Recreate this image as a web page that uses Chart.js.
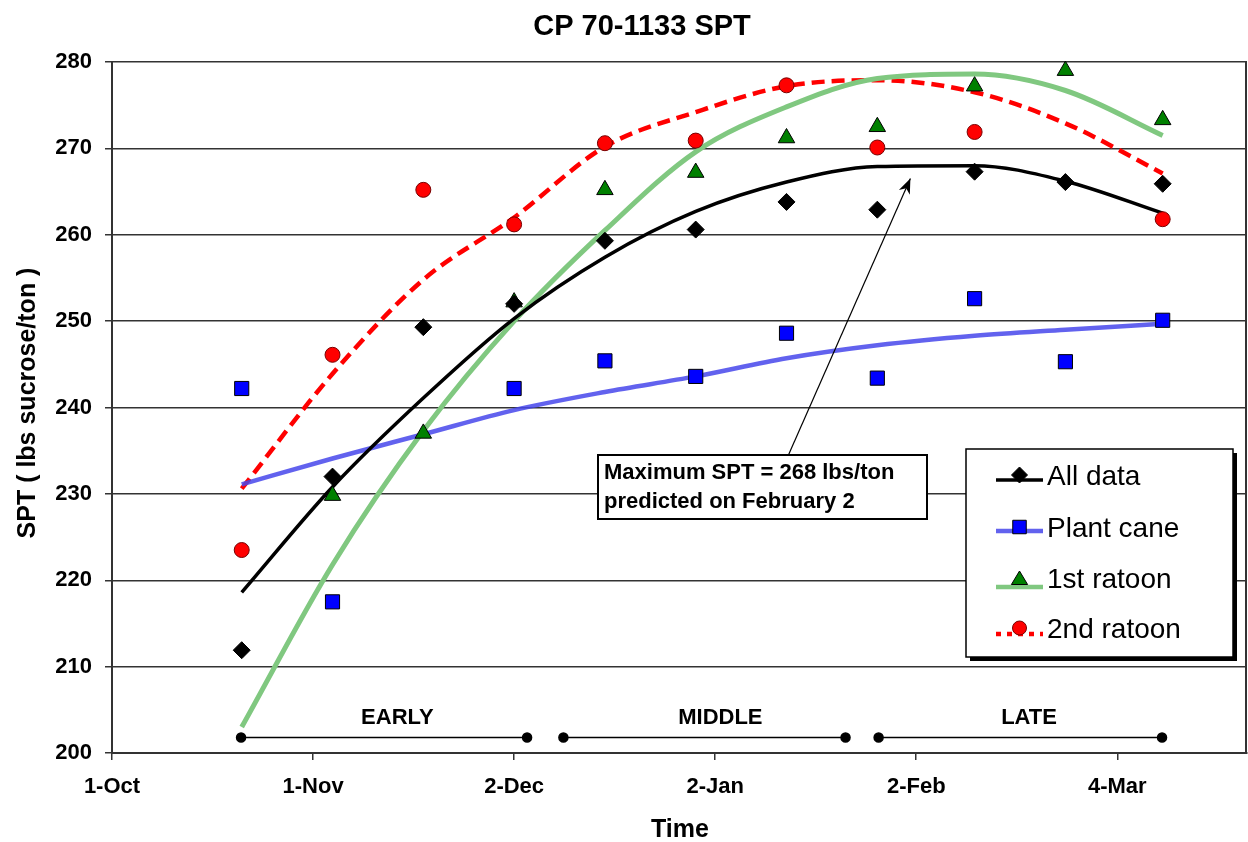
<!DOCTYPE html>
<html>
<head>
<meta charset="utf-8">
<script src="https://cdn.jsdelivr.net/npm/chart.js@4.4.1/dist/chart.umd.min.js"></script>
<style>
  html, body { margin: 0; padding: 0; background: #ffffff; }
  #wrap { width: 1248px; height: 842px; position: relative; }
</style>
</head>
<body>
<div id="wrap"><canvas id="c" width="1248" height="842"></canvas></div>
<script>
// ---- Data (days after 1-Oct) ----
const days = [20, 34, 48, 62, 76, 90, 104, 118, 133, 147, 162];
const allData   = [211.9, 232.0, 249.3, 252.0, 259.3, 260.6, 263.8, 262.9, 267.3, 266.1, 265.9];
const plantCane = [242.2, 217.5, null, 242.2, 245.4, 243.6, 248.6, 243.4, 252.6, 245.3, 250.1];
const ratoon1   = [null, 229.8, 237.0, 252.2, 265.2, 267.2, 271.2, 272.5, 277.2, 279.0, 273.3];
const ratoon2   = [223.5, 246.1, 265.2, 261.2, 270.6, 270.9, 277.3, 270.1, 271.9, null, 261.8];

// trend lines at the same days
const trendAll   = [218.6, 230.8, 241.1, 250.3, 257.4, 262.7, 266.1, 267.9, 268.0, 266.2, 262.5];
const trendPlant = [231.1, 234.1, 236.9, 239.7, 241.8, 243.6, 245.7, 247.2, 248.3, 249.0, 249.7];
const trendR1    = [203.0, 221.8, 237.3, 250.0, 260.5, 269.6, 274.8, 278.1, 278.6, 276.7, 271.5];
const trendR2    = [230.6, 243.9, 254.8, 262.0, 270.2, 274.2, 277.2, 277.9, 276.5, 272.9, 267.1];

const seriesNames = ["All data", "Plant cane", "1st ratoon", "2nd ratoon"];

// x ticks
const tickDays = [0, 31, 62, 93, 124, 155];
const tickLabels = ["1-Oct", "1-Nov", "2-Dec", "2-Jan", "2-Feb", "4-Mar"];

// harvest phases
const phaseNames = ["EARLY", "MIDDLE", "LATE"];
const phaseStart = [19.9, 69.6, 118.2];
const phaseEnd   = [64.0, 113.1, 161.9];
const phaseLevel = 201.8;
const phaseLabelDays = [44.0, 93.8, 141.4];
const phaseLabelLevel = 203.4;

// annotation
const noteLines = ["Maximum SPT = 268 lbs/ton", "predicted on February 2"];
const arrowFrom = { x: 104.3, y: 234.5 };
const arrowTo   = { x: 123.1, y: 266.5 };

const FONT = '"Liberation Sans", Arial, sans-serif';

const COLORS = {
  all: '#000000',
  plant: '#0000ff',
  plantLine: 'rgba(70,70,235,0.85)',
  r1: '#008000',
  r1Line: '#80c880',
  r2: '#ff0000'
};

function pts(arr) { return days.map((d, i) => ({ x: d, y: arr[i] })); }

const markerBase = { showLine: false, order: 0, clip: false, borderWidth: 1, borderColor: '#000' };
const lineBase = { showLine: true, pointRadius: 0, pointHoverRadius: 0, order: 2, cubicInterpolationMode: 'monotone', fill: false };

const datasets = [
  Object.assign({}, markerBase, { label: 'm-all', data: pts(allData), pointStyle: 'rectRot', pointRadius: 8.5, backgroundColor: COLORS.all, borderColor: COLORS.all }),
  Object.assign({}, markerBase, { label: 'm-plant', data: pts(plantCane), pointStyle: 'rect', pointRadius: 10, backgroundColor: COLORS.plant }),
  Object.assign({}, markerBase, { label: 'm-r1', data: pts(ratoon1), pointStyle: 'triangle', pointRadius: 9.5, backgroundColor: COLORS.r1 }),
  Object.assign({}, markerBase, { label: 'm-r2', data: pts(ratoon2), pointStyle: 'circle', pointRadius: 7.5, backgroundColor: COLORS.r2, borderColor: '#700' }),
  Object.assign({}, lineBase, { label: seriesNames[0], data: pts(trendAll), borderColor: COLORS.all, borderWidth: 3.5 }),
  Object.assign({}, lineBase, { label: seriesNames[1], data: pts(trendPlant), borderColor: COLORS.plantLine, borderWidth: 4.5 }),
  Object.assign({}, lineBase, { label: seriesNames[2], data: pts(trendR1), borderColor: COLORS.r1Line, borderWidth: 5 }),
  Object.assign({}, lineBase, { label: seriesNames[3], data: pts(trendR2), borderColor: COLORS.r2, borderWidth: 4.5, borderDash: [13, 7] })
];
phaseNames.forEach((n, i) => {
  datasets.push({
    label: 'phase-' + n,
    data: [{ x: phaseStart[i], y: phaseLevel }, { x: phaseEnd[i], y: phaseLevel }],
    showLine: true, borderColor: '#000', borderWidth: 1.5,
    pointStyle: 'circle', pointRadius: 4.5, backgroundColor: '#000', pointBorderColor: '#000',
    order: 1, clip: false
  });
});

function drawShape(ctx, style, x, y, r, fill, stroke) {
  ctx.save();
  ctx.fillStyle = fill; ctx.strokeStyle = stroke; ctx.lineWidth = 1;
  ctx.beginPath();
  if (style === 'rectRot') {
    ctx.moveTo(x, y - r); ctx.lineTo(x + r, y); ctx.lineTo(x, y + r); ctx.lineTo(x - r, y); ctx.closePath();
  } else if (style === 'rect') {
    ctx.rect(x - r * 0.75, y - r * 0.75, r * 1.5, r * 1.5);
  } else if (style === 'triangle') {
    ctx.moveTo(x, y - r); ctx.lineTo(x + r * 0.9, y + r * 0.5); ctx.lineTo(x - r * 0.9, y + r * 0.5); ctx.closePath();
  } else {
    ctx.arc(x, y, r, 0, Math.PI * 2);
  }
  ctx.fill(); ctx.stroke();
  ctx.restore();
}

const overlay = {
  id: 'overlay',
  afterDraw(chart) {
    const ctx = chart.ctx;
    const xs = chart.scales.x, ys = chart.scales.y;
    const ca = chart.chartArea;
    ctx.save();
    // right frame
    ctx.strokeStyle = '#333'; ctx.lineWidth = 2;
    ctx.beginPath(); ctx.moveTo(ca.right - 1, ca.top); ctx.lineTo(ca.right - 1, ca.bottom); ctx.stroke();

    // title
    ctx.fillStyle = '#000';
    ctx.font = 'bold 29px ' + FONT;
    ctx.textAlign = 'center'; ctx.textBaseline = 'alphabetic';
    ctx.fillText('CP 70-1133 SPT', 642, 35);

    // x title
    ctx.font = 'bold 25px ' + FONT;
    ctx.fillText('Time', 680, 837);

    // y title
    ctx.save();
    ctx.translate(35, 403);
    ctx.rotate(-Math.PI / 2);
    ctx.font = 'bold 25px ' + FONT;
    ctx.fillText('SPT ( lbs sucrose/ton )', 0, 0);
    ctx.restore();

    // phase labels
    ctx.font = 'bold 22px ' + FONT;
    phaseNames.forEach((n, i) => {
      ctx.fillText(n, xs.getPixelForValue(phaseLabelDays[i]), ys.getPixelForValue(phaseLabelLevel));
    });

    // arrow
    const ax0 = xs.getPixelForValue(arrowFrom.x), ay0 = ys.getPixelForValue(arrowFrom.y);
    const ax1 = xs.getPixelForValue(arrowTo.x), ay1 = ys.getPixelForValue(arrowTo.y);
    ctx.strokeStyle = '#000'; ctx.lineWidth = 1.2;
    ctx.beginPath(); ctx.moveTo(ax0, ay0); ctx.lineTo(ax1, ay1); ctx.stroke();
    const ang = Math.atan2(ay1 - ay0, ax1 - ax0);
    const L = 15, W = 6;
    ctx.fillStyle = '#000';
    ctx.beginPath();
    ctx.moveTo(ax1, ay1);
    ctx.lineTo(ax1 - L * Math.cos(ang) + W * Math.sin(ang), ay1 - L * Math.sin(ang) - W * Math.cos(ang));
    ctx.lineTo(ax1 - L * 0.7 * Math.cos(ang), ay1 - L * 0.7 * Math.sin(ang));
    ctx.lineTo(ax1 - L * Math.cos(ang) - W * Math.sin(ang), ay1 - L * Math.sin(ang) + W * Math.cos(ang));
    ctx.closePath(); ctx.fill();

    // annotation box
    const bx = 598, by = 455, bw = 329, bh = 64;
    ctx.fillStyle = '#fff'; ctx.fillRect(bx, by, bw, bh);
    ctx.strokeStyle = '#000'; ctx.lineWidth = 2; ctx.strokeRect(bx, by, bw, bh);
    ctx.fillStyle = '#000'; ctx.font = 'bold 22px ' + FONT; ctx.textAlign = 'left';
    ctx.fillText(noteLines[0], 604, 479);
    ctx.fillText(noteLines[1], 604, 508);

    // legend
    const lx = 966, ly = 449, lw = 267, lh = 208;
    ctx.fillStyle = '#000'; ctx.fillRect(lx + 4, ly + 4, lw, lh);
    ctx.fillStyle = '#fff'; ctx.fillRect(lx, ly, lw, lh);
    ctx.strokeStyle = '#000'; ctx.lineWidth = 1.5; ctx.strokeRect(lx, ly, lw, lh);
    const rows = [
      { name: seriesNames[0], base: 485, lineY: 480, mkY: 475, color: COLORS.all, lw: 3.5, dash: [], style: 'rectRot', r: 8, fill: COLORS.all, stroke: COLORS.all },
      { name: seriesNames[1], base: 537, lineY: 531, mkY: 527, color: COLORS.plantLine, lw: 4.5, dash: [], style: 'rect', r: 9, fill: COLORS.plant, stroke: '#000' },
      { name: seriesNames[2], base: 588, lineY: 587, mkY: 580, color: COLORS.r1Line, lw: 4.5, dash: [], style: 'triangle', r: 9, fill: COLORS.r1, stroke: '#000' },
      { name: seriesNames[3], base: 638, lineY: 634, mkY: 628, color: COLORS.r2, lw: 4.5, dash: [5, 6], style: 'circle', r: 7, fill: COLORS.r2, stroke: '#700' }
    ];
    rows.forEach(rw => {
      ctx.save();
      ctx.strokeStyle = rw.color; ctx.lineWidth = rw.lw; ctx.setLineDash(rw.dash);
      ctx.beginPath(); ctx.moveTo(996, rw.lineY); ctx.lineTo(1043, rw.lineY); ctx.stroke();
      ctx.restore();
      drawShape(ctx, rw.style, 1019.5, rw.mkY, rw.r, rw.fill, rw.stroke);
      ctx.fillStyle = '#000'; ctx.font = '28px ' + FONT; ctx.textAlign = 'left'; ctx.textBaseline = 'alphabetic';
      ctx.fillText(rw.name, 1047, rw.base);
    });
    ctx.restore();
  }
};

new Chart(document.getElementById('c'), {
  type: 'scatter',
  data: { datasets },
  options: {
    responsive: false,
    animation: false,
    devicePixelRatio: 1,
    layout: { autoPadding: false, padding: { top: 62, right: 1, left: 0, bottom: 0 } },
    plugins: { legend: { display: false }, title: { display: false }, tooltip: { enabled: false } },
    scales: {
      x: {
        type: 'linear', min: 0, max: 175,
        afterBuildTicks: (s) => { s.ticks = tickDays.map(v => ({ value: v })); },
        afterFit: (s) => { s.height = 89; },
        ticks: {
          autoSkip: false, maxRotation: 0, padding: 14, color: '#000',
          font: { family: FONT, size: 22, weight: 'bold' },
          callback: (v) => { const i = tickDays.indexOf(v); return i >= 0 ? tickLabels[i] : ''; }
        },
        grid: { drawOnChartArea: false, drawTicks: true, tickLength: 7, color: '#333', lineWidth: 1.5 },
        border: { color: '#333', width: 2 }
      },
      y: {
        min: 200, max: 280,
        afterFit: (s) => { s.width = 112; },
        ticks: { stepSize: 10, padding: 13, color: '#000', font: { family: FONT, size: 22, weight: 'bold' } },
        grid: { color: '#333', lineWidth: 1.5, tickLength: 7 },
        border: { color: '#333', width: 2 }
      }
    }
  },
  plugins: [overlay]
});
</script>
</body>
</html>
